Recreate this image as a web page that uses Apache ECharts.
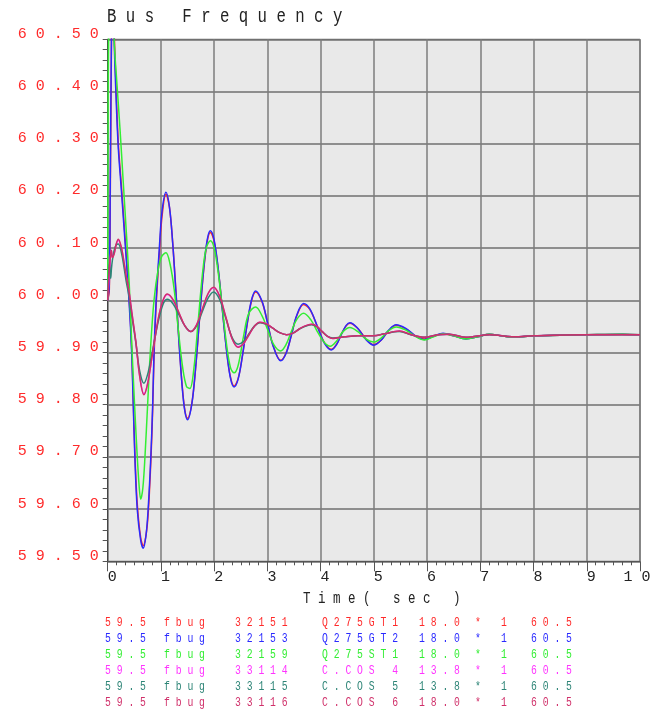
<!DOCTYPE html>
<html><head><meta charset="utf-8">
<script src="https://cdn.jsdelivr.net/npm/echarts@6/dist/echarts.min.js"></script>
<style>html,body{margin:0;padding:0;background:#fff}#c{width:656px;height:714px}</style>
</head><body><div id="c"></div>
<script>
// ---- data ----
const chartTitle = 'Bus Frequency';
const xName = 'Time( sec )';
const xTicks = [0,1,2,3,4,5,6,7,8,9,10];
const yMin = 59.5, yMax = 60.5;

const tBig = [0,0.03,0.05,0.07,0.09,0.12,0.16,0.20,0.25,0.32,0.40,0.45,0.48,0.51,0.555,0.62,0.668,0.72,0.76,0.81,0.845,0.87,0.91,0.97,1.02,1.094,1.16,1.22,1.28,1.34,1.40,1.45,1.50,1.58,1.65,1.72,1.80,1.87,1.93,2.00,2.08,2.15,2.22,2.30,2.375,2.45,2.53,2.60,2.70,2.78,2.90,3.00,3.10,3.25,3.35,3.45,3.55,3.68,3.80,3.95,4.07,4.20,4.30,4.40,4.48,4.55,4.70,4.85,5.00,5.14,5.28,5.42,5.60,5.78,5.95,6.12,6.30,6.50,6.73,6.95,7.17,7.40,7.64,8.00,8.50,9.00,9.67,10.0];
const f32151 = [60.00,60.02,60.22,60.48,60.62,60.52,60.40,60.30,60.23,60.13,60.01,59.91,59.81,59.71,59.61,59.545,59.53,59.55,59.59,59.69,59.79,59.89,59.99,60.09,60.16,60.203,60.178,60.112,60.02,59.921,59.836,59.789,59.774,59.802,59.868,59.957,60.054,60.113,60.130,60.113,60.056,59.987,59.917,59.856,59.836,59.850,59.893,59.941,59.998,60.016,59.997,59.958,59.916,59.885,59.899,59.933,59.970,59.992,59.982,59.947,59.919,59.906,59.916,59.937,59.951,59.956,59.946,59.926,59.915,59.924,59.942,59.952,59.945,59.932,59.926,59.931,59.936,59.932,59.927,59.930,59.935,59.932,59.929,59.932,59.933,59.934,59.935,59.934];
const f32153 = [60.00,60.03,60.25,60.50,60.62,60.50,60.38,60.29,60.22,60.12,60.00,59.90,59.80,59.70,59.60,59.54,59.525,59.55,59.60,59.70,59.80,59.90,60.00,60.10,60.17,60.207,60.179,60.111,60.018,59.918,59.833,59.787,59.771,59.801,59.869,59.959,60.057,60.116,60.133,60.115,60.057,59.986,59.915,59.854,59.834,59.849,59.893,59.942,60.000,60.018,59.998,59.958,59.915,59.884,59.898,59.933,59.971,59.994,59.983,59.947,59.918,59.905,59.915,59.937,59.952,59.957,59.946,59.925,59.914,59.924,59.943,59.953,59.946,59.932,59.925,59.931,59.937,59.932,59.926,59.930,59.935,59.932,59.929,59.932,59.933,59.934,59.935,59.934];

const tGreen = [0,0.005,0.02,0.06,0.10,0.13,0.17,0.23,0.29,0.356,0.405,0.45,0.50,0.55,0.59,0.62,0.66,0.70,0.75,0.80,0.87,0.95,1.02,1.094,1.17,1.25,1.33,1.41,1.48,1.544,1.62,1.70,1.78,1.85,1.93,2.00,2.08,2.16,2.24,2.31,2.375,2.45,2.55,2.65,2.78,2.90,3.00,3.12,3.25,3.35,3.45,3.55,3.68,3.82,3.95,4.07,4.18,4.30,4.42,4.55,4.70,4.85,5.00,5.14,5.28,5.42,5.60,5.78,5.95,6.12,6.30,6.50,6.73,6.95,7.17,7.40,7.64,8.00,8.50,9.00,9.67,10.0];
const f32159 = [60.00,60.25,60.52,60.58,60.55,60.48,60.42,60.33,60.23,60.12,60.03,59.92,59.81,59.71,59.645,59.619,59.64,59.70,59.80,59.90,60.00,60.06,60.085,60.091,60.07,60.02,59.94,59.87,59.835,59.831,59.87,59.96,60.05,60.10,60.114,60.10,60.05,59.98,59.91,59.87,59.861,59.875,59.93,59.975,59.987,59.97,59.945,59.915,59.903,59.915,59.94,59.963,59.975,59.962,59.938,59.919,59.912,59.922,59.94,59.948,59.94,59.926,59.920,59.928,59.942,59.949,59.943,59.931,59.924,59.930,59.936,59.932,59.926,59.930,59.935,59.932,59.929,59.932,59.933,59.934,59.935,59.934];

const tSmall = [0,0.03,0.056,0.07,0.086,0.12,0.16,0.20,0.26,0.305,0.35,0.40,0.46,0.53,0.60,0.68,0.75,0.83,0.90,0.97,1.05,1.12,1.23,1.34,1.45,1.56,1.67,1.78,1.89,1.99,2.10,2.22,2.34,2.45,2.55,2.66,2.76,2.86,3.00,3.11,3.23,3.36,3.48,3.60,3.71,3.83,3.93,4.03,4.13,4.23,4.45,4.70,5.00,5.20,5.48,5.70,5.95,6.20,6.42,6.73,7.17,7.64,8.00,9.00,10.0];
const f33114 = [60.00,60.055,60.088,60.094,60.083,60.09,60.107,60.115,60.099,60.073,60.044,60.016,59.971,59.919,59.856,59.821,59.841,59.89,59.935,59.974,60.002,60.011,60.0,59.975,59.951,59.940,59.953,59.983,60.013,60.024,60.008,59.967,59.926,59.911,59.917,59.935,59.951,59.958,59.954,59.946,59.938,59.934,59.937,59.945,59.951,59.954,59.950,59.940,59.931,59.927,59.930,59.932,59.932,59.936,59.941,59.934,59.929,59.934,59.935,59.929,59.934,59.930,59.932,59.934,59.934];
const f33115 = [60.00,60.07,60.042,60.06,60.075,60.095,60.106,60.108,60.09,60.064,60.035,60.008,59.965,59.918,59.865,59.841,59.858,59.897,59.935,59.968,59.995,60.002,59.993,59.972,59.951,59.940,59.951,59.979,60.005,60.016,60.002,59.965,59.928,59.916,59.921,59.937,59.951,59.957,59.953,59.946,59.938,59.934,59.937,59.945,59.950,59.953,59.949,59.940,59.931,59.928,59.930,59.932,59.932,59.936,59.940,59.934,59.929,59.934,59.935,59.929,59.934,59.930,59.932,59.934,59.934];
const f33116 = [60.00,60.06,60.09,60.096,60.082,60.088,60.108,60.117,60.10,60.074,60.045,60.017,59.972,59.92,59.855,59.819,59.84,59.89,59.935,59.975,60.003,60.012,60.001,59.976,59.951,59.940,59.953,59.984,60.014,60.025,60.009,59.968,59.926,59.910,59.917,59.935,59.951,59.958,59.954,59.946,59.938,59.934,59.937,59.945,59.951,59.954,59.950,59.940,59.931,59.927,59.930,59.932,59.932,59.936,59.941,59.934,59.929,59.934,59.935,59.929,59.934,59.930,59.932,59.934,59.934];

// legend table columns
const legMin = ['59.5','59.5','59.5','59.5','59.5','59.5'];
const legVar = ['fbug','fbug','fbug','fbug','fbug','fbug'];
const legBus = ['32151','32153','32159','33114','33115','33116'];
const legName = ['Q275GT1','Q275GT2','Q275ST1','C.COS 4','C.COS 5','C.COS 6'];
const legKv = ['18.0','18.0','18.0','13.8','13.8','18.0'];
const legStar = ['*','*','*','*','*','*'];
const legMul = ['1','1','1','1','1','1'];
const legMax = ['60.5','60.5','60.5','60.5','60.5','60.5'];
const colors = ['#ff2a2a','#2a2aff','#33ee33','#ff33ff','#2e8577','#d0306a'];

const seriesT = [tBig, tBig, tGreen, tSmall, tSmall, tSmall];
const seriesF = [f32151, f32153, f32159, f33114, f33115, f33116];

// ---- build ----
const FONT = '"Liberation Mono", "DejaVu Sans Mono", monospace';
const sp = s => String(s).split('').join(' ');

const series = seriesF.map((vals, i) => ({
  name: legBus[i],
  type: 'line',
  showSymbol: false,
  smooth: 0.35,
  clip: true,
  lineStyle: { color: colors[i], width: 1.5 },
  itemStyle: { color: colors[i] },
  data: vals.map((v, k) => [seriesT[i][k], v]),
  z: 3 + i
}));

const graphics = [];
graphics.push({
  type: 'text', x: 107, y: 17, scaleY: 1.3,
  style: { text: sp(chartTitle), fill: '#222', font: '15.7px ' + FONT, align: 'left', verticalAlign: 'middle' }
});
graphics.push({
  type: 'text', x: 303, y: 598.5, scaleY: 1.28,
  style: { text: sp(xName), fill: '#222', font: '12.5px ' + FONT, align: 'left', verticalAlign: 'middle' }
});
const cols = [legMin, legVar, legBus, legName, legKv, legStar, legMul, legMax];
const colX = [105, 164, 235, 322, 419, 475, 501, 531];
for (let r = 0; r < legBus.length; r++) {
  for (let c = 0; c < cols.length; c++) {
    graphics.push({
      type: 'text', x: colX[c], y: 622.5 + 16 * r, scaleY: 1.25,
      style: { text: sp(cols[c][r]), fill: colors[r], font: '9.75px ' + FONT, align: 'left', verticalAlign: 'middle' }
    });
  }
}

const chart = echarts.init(document.getElementById('c'), null, { renderer: 'canvas' });
chart.setOption({
  animation: false,
  backgroundColor: '#ffffff',
  grid: { left: 107.7, right: 16, top: 39.3, bottom: 152.7, show: true,
          backgroundColor: '#e9e9e9', borderColor: '#555', borderWidth: 1 },
  xAxis: {
    type: 'value', min: xTicks[0], max: xTicks[xTicks.length - 1], interval: 1,
    axisLine: { show: true, onZero: false, lineStyle: { color: '#555', width: 1 } },
    axisTick: { show: true, length: 10, lineStyle: { color: '#555' } },
    minorTick: { show: true, splitNumber: 6, length: 4, lineStyle: { color: '#555' } },
    splitLine: { show: true, lineStyle: { color: '#7d7d7d', width: 1.5 } },
    axisLabel: {
      margin: 8,
      formatter: v => v === 10 ? '{e|' + sp(v) + '}' : '{n|' + sp(v) + '}',
      rich: {
        n: { fontFamily: FONT, fontSize: 15, color: '#222', padding: [0, 0, 0, 9] },
        e: { fontFamily: FONT, fontSize: 15, color: '#222', padding: [0, 6, 0, 0] }
      }
    }
  },
  yAxis: {
    type: 'value', min: yMin, max: yMax, interval: 0.1,
    axisLine: { show: true, lineStyle: { color: '#444', width: 1 } },
    axisTick: { show: true, length: 5, lineStyle: { color: '#555' } },
    minorTick: { show: true, splitNumber: 5, length: 5, lineStyle: { color: '#555' } },
    splitLine: { show: true, lineStyle: { color: '#6f6f6f', width: 1.5 } },
    axisLabel: {
      margin: 9, color: '#ff2a2a', fontFamily: FONT, fontSize: 15,
      verticalAlign: 'bottom', lineHeight: 11,
      showMinLabel: true, showMaxLabel: true,
      formatter: v => sp(v.toFixed(2))
    }
  },
  series: series,
  graphic: graphics
});
</script></body></html>
